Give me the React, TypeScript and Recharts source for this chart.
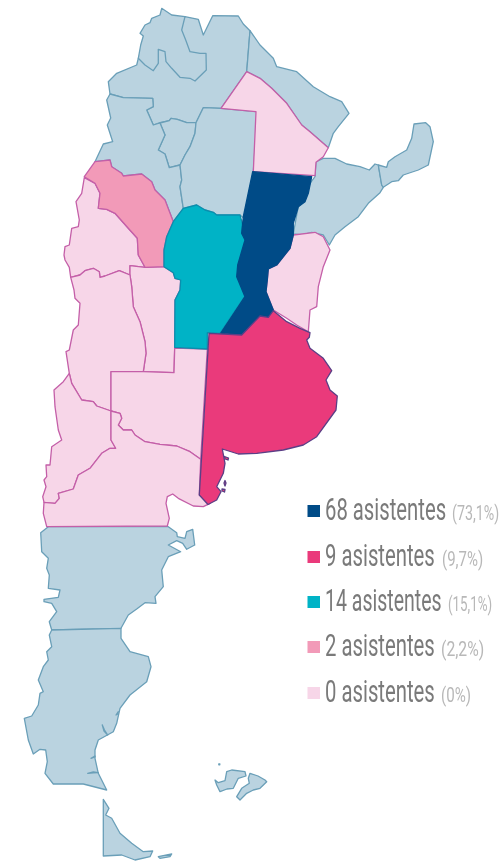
import React from 'react';
import { ScatterChart, Scatter, XAxis, YAxis, Legend } from 'recharts';

type Pt = [number, number];

// province outlines (map units, y grows downwards)
const salta: Pt[] = [[138.3,58.3],[185,16.7],[198.3,19.3],[203.3,35],[212.7,15.7],[238.3,16],[243.3,24],[250,30.7],[246.7,71.7],[221,108.3],[203.3,107.7],[196,122.7],[186.7,122.7],[177.3,119.3],[171,118.3],[169.3,120.7],[160,122.7],[153.3,125],[146.7,110],[153.3,106.7],[152.7,98.3],[123.3,97.7],[110,94],[108.3,81.7],[116.7,73.3],[136.7,65]];
const jujuy: Pt[] = [[138.3,58.3],[140.7,45],[143.3,36],[140,33.3],[145,25],[150,22.7],[151.7,18.3],[160,15],[161.7,8.3],[171.7,15],[185,16.7],[181.7,30],[185.7,40],[190,51.7],[200,53.3],[206,53.3],[206.3,70],[195,81],[190,78.3],[180,77.3],[171.7,68.3],[166,61.7],[165,51.7],[158.3,49.3],[158.3,63.3],[153.3,70.7],[145,65]];
const tucuman: Pt[] = [[160,123],[165,135],[158.3,150],[165,154],[169.3,167.7],[180,165],[185,155],[190,146.7],[195,133.3],[196,122.7],[186.7,122.7],[177.3,119.3],[171,118.3],[169.3,120.7]];
const catamarca: Pt[] = [[110,94],[106.7,100],[110.7,118],[107.3,125],[112.7,141.7],[103.3,144],[95,161.7],[110,160],[111.7,166.7],[121.7,173.3],[123.3,176],[141.7,174],[151.7,181.7],[155,190],[165,200],[173.3,221.7],[183.3,208.3],[180,186.7],[181.7,180],[180,165],[169.3,167.7],[165,154],[158.3,150],[165,135],[160,123],[153.3,125],[146.7,110],[153.3,106.7],[152.7,98.3],[123.3,97.7]];
const santiago: Pt[] = [[203.3,107.7],[221,108.3],[256.7,111.7],[256,133.3],[253.3,171.7],[244,218.3],[240,215],[216.7,215],[213.3,212.3],[205,210],[196.7,205],[183.3,208.3],[180,186.7],[181.7,180],[180,165],[185,155],[190,146.7],[195,133.3],[196,122.7]];
const formosa: Pt[] = [[250,30.7],[260,45],[273.3,58.3],[276.7,66.7],[296.7,71.7],[313.3,86.7],[330,96.7],[341.7,101.7],[349,113.3],[338.3,126.7],[333.3,133.3],[328.3,147.7],[310,131.7],[301.7,125],[286.7,103.3],[271.7,88.3],[260,78.3],[246.7,71.7]];
const corrientes: Pt[] = [[316,161.7],[323.3,158.3],[335,158.3],[346.7,164],[360,166.7],[369.3,170],[375,164],[378.3,165],[381.7,185],[383.3,187.3],[380,192.7],[368.3,203.3],[358.3,216.7],[345,226.7],[335,235],[329.3,245],[323.3,235],[311.7,232.3],[301.7,235],[293.3,234],[296.7,215],[298.3,206.7],[305,200],[310,183.3],[315,176.7]];
const misiones: Pt[] = [[378.3,165],[386.7,167.3],[388.3,161.7],[395,156.7],[406.7,150],[411.7,138.3],[414,124],[425.7,122.7],[430,126.7],[433.3,141.7],[428.3,165],[418.3,170],[403.3,175],[398.3,180.7],[391.7,181.7],[383.3,187.3],[381.7,185]];
const chubut: Pt[] = [[48.3,526.7],[168.3,526.7],[176.7,532.7],[177.3,536.7],[185,538.3],[186.7,531.7],[192.7,529.3],[194.7,545],[186.7,549.3],[182.7,543.3],[176.7,540.7],[168.3,545],[180.7,551.7],[168.3,556.7],[161.7,570],[163.3,586.7],[155,596.7],[156,603.3],[145,602.7],[136.7,609],[128.3,615],[121,628.3],[51.7,630],[49.3,621.7],[56.7,611.7],[51.7,603.3],[44,601.7],[44,599.3],[58.3,597.3],[60,590],[48.3,588.3],[49.3,575],[46.7,568.3],[48.3,558.3],[41.7,551.7],[40.7,532.7]];
const santaCruz: Pt[] = [[51.7,630],[121,628.3],[121,638.3],[130,651.7],[148.3,656.7],[151,666.7],[146.7,681.7],[130,695],[120,708.3],[116.7,723.3],[113.3,731.7],[98.3,740],[95,750],[95,758.3],[98.3,773.3],[106.7,790],[83.3,784],[53.3,784],[45,773.3],[47.3,761.7],[45.7,750],[40,749.3],[33.3,754],[28.3,740],[24.3,718.3],[31.7,716],[38.3,705],[40,693.3],[43.3,691.7],[38.3,680],[43.3,666.7],[48.3,660],[46.7,651.7],[51.7,646.7],[49.3,635]];
const tierraDelFuego: Pt[] = [[103.3,799.3],[109,808.3],[105.7,815],[111.7,818.3],[120,833.3],[131.7,843.3],[143.3,851.7],[152.7,851],[150,856.7],[135,860],[121.7,855],[103.3,856]];
const islaEstados: Pt[] = [[158.3,856.7],[171.7,854],[170,856.7],[160,858.3]];
const malvinasOeste: Pt[] = [[215,780],[218.3,782.7],[225,780.7],[226.7,771.7],[231.7,770],[245,771.7],[246,776],[238.3,778.3],[233.3,788.3],[227,789],[220,791.7],[216.7,785]];
const malvinasEste: Pt[] = [[250,773.3],[258,776],[265,780],[266.7,781.7],[260,788.3],[253.3,790],[246.7,793.3],[240,800],[236.7,796.7],[241.7,788.3],[249.3,783.3],[248.3,778.3]];
const malvinasPunto: Pt[] = [[218.8,763.8],[219.8,763.8],[219.8,764.8],[218.8,764.8]];
const fiordoA: Pt[] = [[102.3,725],[104.5,730],[107.7,735],[104,731]];
const fiordoB: Pt[] = [[87.7,773.3],[93.3,772],[98.3,772.7],[93.3,772.8]];
const fiordoC: Pt[] = [[91,758.3],[95,756],[95,757]];
const fiordoD: Pt[] = [[116,715],[118.3,711.7],[117.8,714]];
const chaco: Pt[] = [[221,108.3],[246.7,71.7],[260,78.3],[271.7,88.3],[286.7,103.3],[301.7,125],[310,131.7],[328.3,147.7],[323.3,156.7],[316,162.3],[315,175.7],[253.3,171.7],[256,111.7]];
const sanJuan: Pt[] = [[84.3,177.7],[95,183.3],[100,193.3],[98.3,208.3],[106.7,209.3],[115,213.3],[128.3,228.3],[137.3,238.3],[138.3,255],[145,267.3],[130,265.7],[130,275],[119.3,270.7],[105,276],[100,277.3],[99.3,271.7],[93.3,268.3],[85,270.7],[80,275],[70.7,277.3],[69.3,267.3],[65,260],[64,255],[65,246.7],[69.3,245],[71.7,228.3],[78.3,226.7],[79.3,220],[76,201.7],[81.7,193.3]];
const sanLuis: Pt[] = [[130,265.7],[145,267.3],[164,266.7],[173.3,272.7],[175,278.3],[180.7,280],[180,290],[175,300],[174.7,347.3],[174,372.7],[143.3,371.7],[146,353.3],[145,341.7],[140,321.7],[133.3,306.7],[131.7,286.7],[130,275]];
const mendoza: Pt[] = [[70.7,277.3],[80,275],[85,270.7],[93.3,268.3],[99.3,271.7],[100,277.3],[105,276],[119.3,270.7],[130,275],[131.7,286.7],[133.3,306.7],[140,321.7],[145,341.7],[146,353.3],[143.3,371.7],[111,371.7],[111,411],[96.7,406],[93.3,401.7],[81.7,400],[71.7,383.3],[69.3,373.3],[66,351.7],[69.3,350],[73.3,330],[78.3,325],[80,303.3],[75,298.3],[74,290]];
const laPampa: Pt[] = [[111,371.7],[143.3,371.7],[174,372.7],[174.7,348],[207.3,349],[200.7,459.3],[190,451.7],[176.7,446],[160,444.3],[145,441.7],[135,435],[131.7,430],[123.3,430],[118.3,425],[121.7,418.3],[120,413.3],[111,411]];
const neuquen: Pt[] = [[69.3,373.3],[63.3,381.7],[54,390],[55,406.7],[58.3,430],[61.7,440],[51.7,446.7],[50,465],[46,465],[46.7,476.7],[44,480],[46,486.7],[42.7,496.7],[44,502.3],[55,503.3],[59.3,498.3],[58.3,493.3],[73.3,489],[78.3,475],[90,468.3],[101.7,453.3],[110,448.3],[115.7,448.3],[111,440],[111,411],[96.7,406],[93.3,401.7],[81.7,400],[71.7,383.3]];
const rioNegro: Pt[] = [[44,502.3],[55,503.3],[59.3,498.3],[58.3,493.3],[73.3,489],[78.3,475],[90,468.3],[101.7,453.3],[110,448.3],[115.7,448.3],[111,440],[111,411],[120,413.3],[121.7,418.3],[118.3,425],[123.3,430],[131.7,430],[135,435],[145,441.7],[160,444.3],[176.7,446],[190,451.7],[200.7,459.3],[199.3,495],[210,503.3],[203.3,506.7],[193.3,506],[178.3,498.3],[172.7,494],[167.3,496.7],[166,503.3],[169.3,518.3],[167.3,526],[46.7,526.7],[43.3,513.3]];
const entreRios: Pt[] = [[293.3,235],[315,232.3],[323.3,236.7],[330,250],[323.3,266.7],[318.3,286.7],[316.7,306.7],[310,310],[308.3,331.7],[296.7,325],[286.7,318.3],[273.3,310],[266,291.7],[267.3,280],[268.3,269],[276.7,265],[290,248.3]];
const laRioja: Pt[] = [[95,161.7],[110,160],[111.7,166.7],[121.7,173.3],[123.3,176],[141.7,174],[151.7,181.7],[155,190],[165,200],[173.3,221.7],[166.7,236.7],[164,250],[164,266.7],[145,267.3],[138.3,255],[137.3,238.3],[128.3,228.3],[115,213.3],[106.7,209.3],[98.3,208.3],[100,193.3],[95,183.3],[84.3,176.7]];
const cordoba: Pt[] = [[183.3,208.3],[196.7,205],[205,210],[213.3,212.3],[216.7,215],[240,215],[242.7,225],[241.7,233.3],[246,240],[238.3,266.7],[237.3,275],[245,296],[220,333.3],[207.3,332.7],[207.3,349],[174.7,347.3],[175,300],[180,290],[180.7,280],[175,278.3],[173.3,272.7],[164,266.7],[164,250],[166.7,236.7],[173.3,221.7]];
const santaFe: Pt[] = [[252.7,171.7],[311.7,176.7],[308.3,193.3],[305,201.7],[298.3,206.7],[293.3,223.3],[293.3,235],[290,248.3],[276.7,265],[268.3,269],[267.3,280],[266,291.7],[273.3,310],[268.3,318.3],[260,316.7],[242.3,335],[220.7,333.3],[245,296.7],[236.7,276.7],[237.7,265],[245,240],[241.7,233.3],[243.3,216.7]];
const buenosAires: Pt[] = [[209,333.3],[241.7,335],[260,316],[268.3,317.3],[273.3,310.7],[286.7,321.7],[300,328.3],[310,332.7],[309.3,337.3],[306.7,340],[310,348.3],[323.3,358.3],[331.7,370.7],[326,380],[330,390],[337.3,396],[336,410],[316.7,436.7],[303.3,445],[283.3,450],[256.7,453.3],[238.3,454],[222.3,449],[224,458],[225,463.3],[223.3,473.3],[216.7,486.7],[221,491.7],[216.7,500],[208,504.5],[199.3,495]];
const islaBahia: Pt[] = [[224.5,456.5],[228.5,458],[228,460],[225,459]];
const islaTrinidad: Pt[] = [[225,480.5],[226,483],[225,486],[224,483]];
const islaBermejo: Pt[] = [[222,489],[225,489.5],[224.5,492],[222,491]];

const sinDatos = [salta, jujuy, tucuman, catamarca, santiago, formosa, corrientes, misiones, chubut, santaCruz, tierraDelFuego, islaEstados, malvinasOeste, malvinasEste, malvinasPunto, fiordoA, fiordoB, fiordoC, fiordoD];
const ceroAsistentes = [chaco, sanJuan, sanLuis, mendoza, laPampa, neuquen, rioNegro, entreRios];
const dosAsistentes = [laRioja];
const catorceAsistentes = [cordoba];
const sesentaYOcho = [santaFe];
const nueveAsistentes = [buenosAires, islaBahia, islaTrinidad, islaBermejo];

const legendLabels = ['68 asistentes', '9 asistentes', '14 asistentes', '2 asistentes', '0 asistentes'];
const legendShares = ['(73,1%)', '(9,7%)', '(15,1%)', '(2,2%)', '(0%)'];
const legendColors = ['#004b87', '#ea3a7b', '#00b3c6', '#f29ab8', '#f7d6e8'];
const labelScales = [0.654, 0.655, 0.63, 0.655, 0.655];
const shareStarts = [452, 442, 448, 441, 441];
const shareScales = [0.68, 0.714, 0.637, 0.749, 0.72];
const baselines = [520, 566, 611, 656, 702];

const groups = [
    { items: sinDatos, fill: '#bad3e0', stroke: '#6a9fb8' },
    { items: ceroAsistentes, fill: '#f7d6e8', stroke: '#c45fa8' },
    { items: dosAsistentes, fill: '#f29ab8', stroke: '#c45fa8' },
    { items: catorceAsistentes, fill: '#00b3c6', stroke: '#0a8fae' },
    { items: sesentaYOcho, fill: '#004b87', stroke: '#004b87' },
    { items: nueveAsistentes, fill: '#ea3a7b', stroke: '#5b3f86' },
];

const toRows = (pts: Pt[]) => pts.map(([x, y]) => ({ x, y }));

const MapLegend = () => (
    <svg width={502} height={861} style={{ display: 'block' }}>
        {legendLabels.map((label, i) => (
            <g key={label} fontFamily="Roboto">
                <rect x={307.5} y={baselines[i] - 15} width={12.5} height={12} fill={legendColors[i]} />
                <text transform={`translate(325,${baselines[i]}) scale(${labelScales[i]},1)`} fontSize={31} fill="#7a7a7a">
                    {label}
                </text>
                <text transform={`translate(${shareStarts[i]},${baselines[i]}) scale(${shareScales[i]},1)`} fontSize={21} fill="#b8b8b8">
                    {legendShares[i]}
                </text>
            </g>
        ))}
    </svg>
);

const App: React.FC = () => (
    <div style={{ position: 'fixed', left: 0, top: 0, width: 502, height: 861, filter: 'blur(0.35px)' }}>
        <ScatterChart width={502} height={861} margin={{ top: 0, right: 0, bottom: 0, left: 0 }}>
            <XAxis type="number" dataKey="x" domain={[0, 502]} hide />
            <YAxis type="number" dataKey="y" domain={[0, 861]} reversed hide />
            {groups.flatMap((group, g) =>
                group.items.map((pts, p) => (
                    <Scatter
                        key={`${g}-${p}`}
                        data={toRows(pts)}
                        line={{ fill: group.fill, stroke: group.stroke, strokeWidth: 1.3, strokeLinejoin: 'round' }}
                        lineJointType="linearClosed"
                        shape={() => <g />}
                        legendType="none"
                        isAnimationActive={false}
                    />
                ))
            )}
            <Legend
                layout="vertical"
                align="center"
                verticalAlign="middle"
                wrapperStyle={{ position: 'absolute', left: 0, top: 0, width: 502, height: 861, pointerEvents: 'none' }}
                content={() => <MapLegend />}
            />
        </ScatterChart>
    </div>
);

export default App;
